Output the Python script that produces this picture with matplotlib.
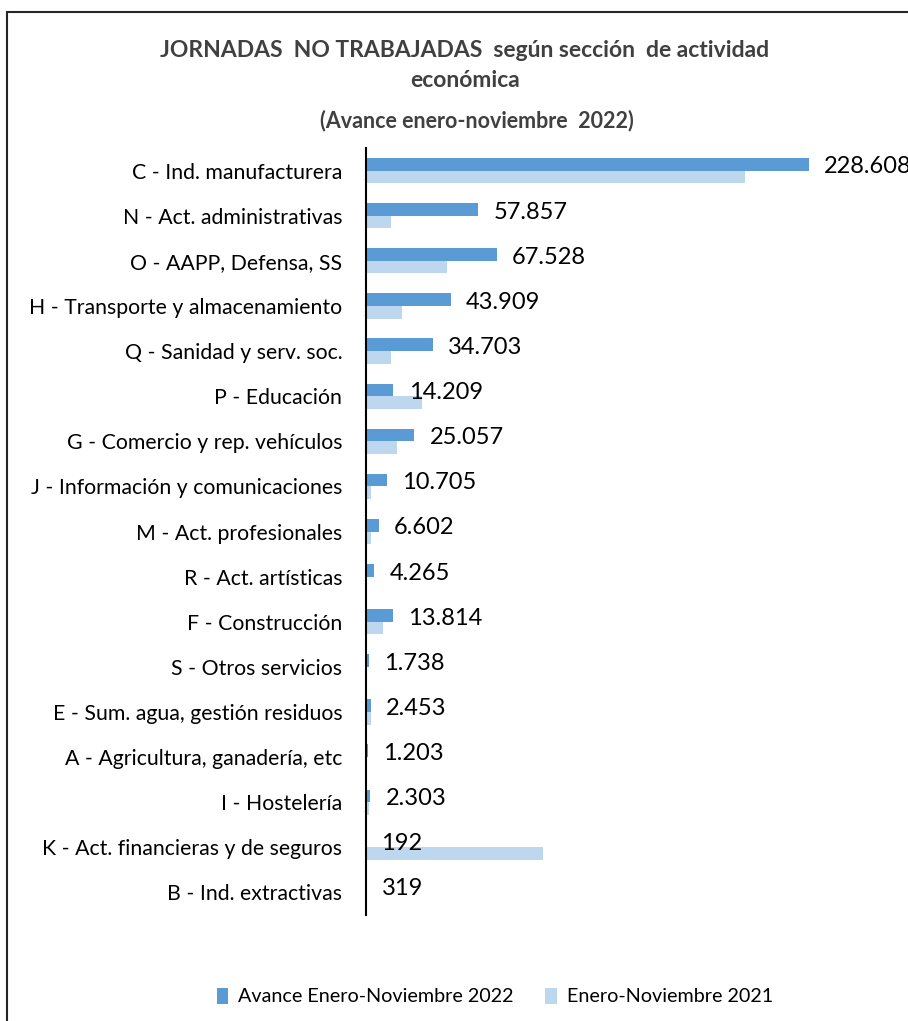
import matplotlib.pyplot as plt
from matplotlib.patches import Rectangle

plt.rcParams['font.family'] = ['Lato', 'DejaVu Sans']

# Data
categories = ['C - Ind. manufacturera', 'N - Act. administrativas', 'O - AAPP, Defensa, SS',
              'H - Transporte y almacenamiento', 'Q - Sanidad y serv. soc.', 'P - Educación',
              'G - Comercio y rep. vehículos', 'J - Información y comunicaciones',
              'M - Act. profesionales', 'R - Act. artísticas', 'F - Construcción',
              'S - Otros servicios', 'E - Sum. agua, gestión residuos',
              'A - Agricultura, ganadería, etc', 'I - Hostelería',
              'K - Act. financieras y de seguros', 'B - Ind. extractivas']
avance_2022 = [228608, 57857, 67528, 43909, 34703, 14209, 25057, 10705, 6602, 4265,
               13814, 1738, 2453, 1203, 2303, 192, 319]
ene_nov_2021 = [195600, 12700, 41600, 18850, 12700, 29100, 15860, 2580, 2580, 300,
                8930, 300, 2700, 200, 1700, 91200, 100]

dark = '#5B9BD5'
light = '#BDD7EE'

fig = plt.figure(figsize=(9.08, 10.21), dpi=100)
ax = fig.add_axes([0.403, 0.1038, 0.597, 0.7512])

y = list(range(len(categories)))
h = 0.28
ax.barh([i - h / 2 for i in y], avance_2022, height=h, color=dark, label='Avance Enero-Noviembre 2022')
ax.barh([i + h / 2 for i in y], ene_nov_2021, height=h, color=light, label='Enero-Noviembre 2021')

xmax = 279700
ax.set_xlim(0, xmax)
ax.set_ylim(16.5, -0.5)
ax.set_yticks(y)
ax.set_yticklabels(categories, fontsize=15.3)
ax.tick_params(axis='y', length=0, pad=17)
ax.set_xticks([])
for s in ['top', 'right', 'bottom']:
    ax.spines[s].set_visible(False)
ax.spines['left'].set_linewidth(1.5)

# value labels
for i, v in enumerate(avance_2022):
    ax.text(v + 0.028 * xmax, i - 0.08, f'{v:,}'.replace(',', '.'), va='center', ha='left',
            fontsize=17, clip_on=False)

# titles
fig.text(0.512, 0.951, 'JORNADAS  NO TRABAJADAS  según sección  de actividad', ha='center', va='center',
         fontsize=16.5, fontweight='bold', color='#404040')
fig.text(0.512, 0.921, 'económica', ha='center', va='center', fontsize=16.5, fontweight='bold', color='#404040')
fig.text(0.525, 0.882, '(Avance enero-noviembre  2022)', ha='center', va='center', fontsize=15.5,
         fontweight='bold', color='#404040')

# legend
fig.legend(loc='center', bbox_to_anchor=(0.545, 0.024), ncol=2, frameon=False, fontsize=14.2,
           handlelength=0.6, handleheight=0.9, handletextpad=0.5, columnspacing=1.6)

# outer frame
fig.patches.append(Rectangle((7 / 908, -0.05), 1.1, 1.05 - 12 / 1021, transform=fig.transFigure,
                             fill=False, edgecolor='#262626', linewidth=1.5))

fig.savefig('out.png', dpi=100)
